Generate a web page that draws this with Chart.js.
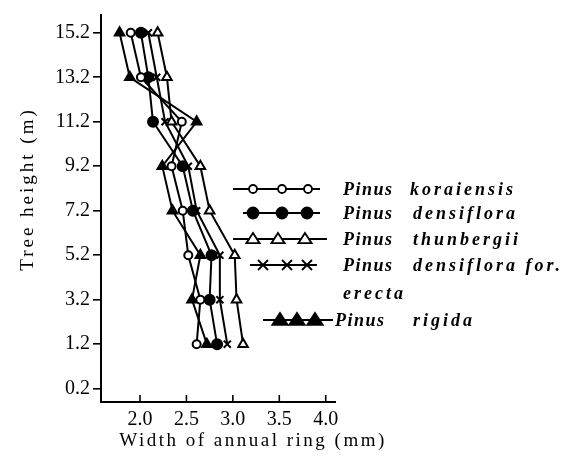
<!DOCTYPE html>
<html>
<head>
<meta charset="utf-8">
<script src="https://cdn.jsdelivr.net/npm/chart.js@4.4.0/dist/chart.umd.min.js"></script>
<style>
body { margin: 0; background: #fff; }
</style>
</head>
<body>
<canvas id="chart" width="564" height="460"></canvas>
<script>
// tick labels of the height axis, bottom to top (evenly spaced in the figure)
const heightLabels = ["0.2", "1.2", "3.2", "5.2", "7.2", "9.2", "11.2", "13.2", "15.2"];
// heights where the rings were measured, top to bottom
const heights = ["15.2", "13.2", "11.2", "9.2", "7.2", "5.2", "3.2", "1.2"];
const widthTicks = [2.0, 2.5, 3.0, 3.5, 4.0];

// width of annual ring (mm) at each height
const koraiensis = [1.90, 2.01, 2.45, 2.34, 2.46, 2.52, 2.65, 2.61];
const densiflora = [2.01, 2.09, 2.14, 2.46, 2.57, 2.77, 2.75, 2.83];
const thunbergii = [2.19, 2.29, 2.34, 2.65, 2.75, 3.02, 3.04, 3.11];
const erecta     = [2.09, 2.18, 2.27, 2.52, 2.61, 2.86, 2.86, 2.94];
const rigida     = [1.78, 1.89, 2.61, 2.24, 2.35, 2.65, 2.56, 2.72];

const FONT = "'Liberation Serif', 'DejaVu Serif', serif";

function pts(vals) {
    return vals.map((v, i) => ({ x: v, y: heightLabels.indexOf(heights[i]) }));
}

function series(label, vals, style, fill, r) {
    return {
        label: label,
        data: pts(vals),
        showLine: true,
        borderColor: "#000",
        borderWidth: 2,
        pointStyle: style,
        pointRadius: r,
        pointBorderWidth: 2,
        pointBorderColor: "#000",
        pointBackgroundColor: fill ? "#000" : "#fff",
        tension: 0
    };
}

function mark(ctx, style, x, y, r, fill) {
    ctx.beginPath();
    if (style === "circle") {
        ctx.arc(x, y, r, 0, Math.PI * 2);
    } else if (style === "triangle") {
        ctx.moveTo(x, y - r);
        ctx.lineTo(x + r * 1.1, y + r * 0.7);
        ctx.lineTo(x - r * 1.1, y + r * 0.7);
        ctx.closePath();
    } else {
        ctx.moveTo(x - r, y - r); ctx.lineTo(x + r, y + r);
        ctx.moveTo(x + r, y - r); ctx.lineTo(x - r, y + r);
        ctx.stroke();
        return;
    }
    ctx.fillStyle = fill ? "#000" : "#fff";
    ctx.fill();
    ctx.stroke();
}

const legendRows = [
    { style: "circle", fill: false, r: 4, y: 189, line: [233, 320], marks: [253, 282, 308], texts: [["Pinus", 343], ["koraiensis", 410]] },
    { style: "circle", fill: true, r: 5.5, y: 213, line: [243, 320], marks: [253, 282, 307], texts: [["Pinus", 343], ["densiflora", 413]] },
    { style: "triangle", fill: false, r: 6, y: 239, line: [233, 327], marks: [253, 278, 305], texts: [["Pinus", 343], ["thunbergii", 413]] },
    { style: "cross", fill: false, r: 5, y: 265, line: [250, 317], marks: [263, 287, 307], texts: [["Pinus", 343], ["densiflora for.", 413]] },
    { style: null, y: 293, texts: [["erecta", 343]] },
    { style: "triangle", fill: true, r: 7, y: 320, line: [263, 333], marks: [280, 297, 315], texts: [["Pinus", 335], ["rigida", 413]] }
];

const decor = {
    id: "decor",
    afterDraw(c) {
        const ctx = c.ctx;
        const xs = c.scales.x;
        const bottom = c.chartArea.bottom;
        ctx.save();
        ctx.strokeStyle = "#000";
        ctx.lineWidth = 1.6;
        // x tick marks point inward
        widthTicks.forEach(v => {
            const px = xs.getPixelForValue(v);
            ctx.beginPath();
            ctx.moveTo(px, bottom);
            ctx.lineTo(px, bottom - 7);
            ctx.stroke();
        });

        // axis titles
        ctx.fillStyle = "#000";
        ctx.font = "19px " + FONT;
        ctx.letterSpacing = "2.5px";
        ctx.textAlign = "center";
        ctx.textBaseline = "middle";
        ctx.fillText("Width of annual ring (mm)", 253, 441);
        ctx.save();
        ctx.translate(28, 189);
        ctx.rotate(-Math.PI / 2);
        ctx.letterSpacing = "3px";
        ctx.fillText("Tree height (m)", 0, 0);
        ctx.restore();

        // legend
        ctx.textAlign = "left";
        legendRows.forEach(row => {
            if (row.style) {
                ctx.lineWidth = 1.8;
                ctx.beginPath();
                ctx.moveTo(row.line[0], row.y);
                ctx.lineTo(row.line[1], row.y);
                ctx.stroke();
                row.marks.forEach(mx => mark(ctx, row.style, mx, row.y, row.r, row.fill));
            }
            row.texts.forEach(([t, tx]) => {
                ctx.font = "italic bold 18px " + FONT;
                ctx.letterSpacing = t === "Pinus" ? "1.5px" : "3px";
                ctx.fillStyle = "#000";
                ctx.fillText(t, tx, row.y + 1);
            });
        });
        ctx.restore();
    }
};

new Chart(document.getElementById("chart"), {
    type: "scatter",
    data: {
        datasets: [
            series("Pinus koraiensis", koraiensis, "circle", false, 4),
            series("Pinus densiflora", densiflora, "circle", true, 5),
            series("Pinus thunbergii", thunbergii, "triangle", false, 5.5),
            series("Pinus densiflora for. erecta", erecta, "crossRot", false, 5),
            series("Pinus rigida", rigida, "triangle", true, 5.5)
        ]
    },
    options: {
        responsive: false,
        animation: false,
        layout: { padding: { top: 10, right: 229, left: 0, bottom: 0 } },
        plugins: {
            legend: { display: false },
            tooltip: { enabled: false }
        },
        scales: {
            x: {
                type: "linear",
                min: 1.58,
                max: 4.1,
                afterBuildTicks: s => { s.ticks = widthTicks.map(v => ({ value: v })); },
                afterFit: s => { s.height = 58; },
                grid: { display: false, drawTicks: false },
                border: { display: true, color: "#000", width: 2 },
                ticks: {
                    color: "#000",
                    padding: 6,
                    font: { family: FONT, size: 20 },
                    callback: v => v.toFixed(1)
                }
            },
            y: {
                type: "linear",
                min: -0.3,
                max: 8.4,
                afterBuildTicks: s => { s.ticks = heightLabels.map((_, i) => ({ value: i })); },
                afterFit: s => { s.width = 101; },
                grid: { display: true, drawOnChartArea: false, drawTicks: true, tickLength: 8, color: "#000", lineWidth: 1.6 },
                border: { display: true, color: "#000", width: 2 },
                ticks: {
                    color: "#000",
                    padding: 3,
                    font: { family: FONT, size: 20 },
                    callback: v => heightLabels[v]
                }
            }
        }
    },
    plugins: [decor]
});
</script>
</body>
</html>
